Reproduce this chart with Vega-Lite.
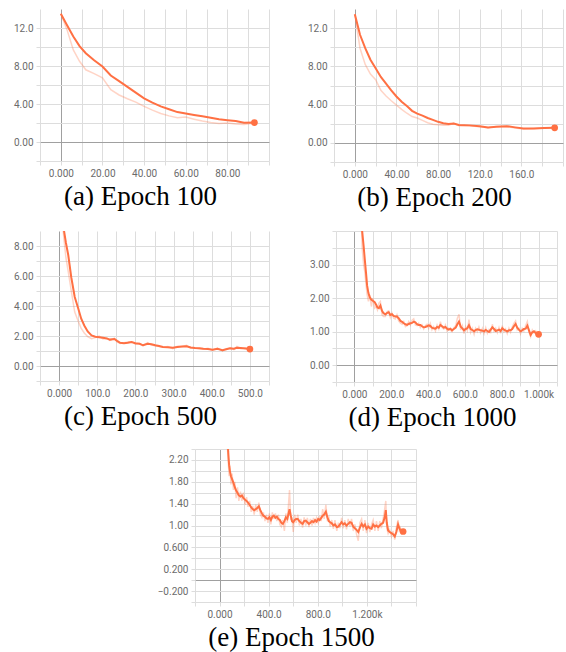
{
  "$schema": "https://vega.github.io/schema/vega-lite/v6.json",
  "padding": {"left": 13, "top": 9, "right": 2, "bottom": 2},
  "background": "white",
  "config": {
    "view": {"stroke": null},
    "axis": {"domain": false, "grid": true, "tickColor": "#dddddd", "tickSize": 4, "labelColor": "#6b6b6b", "labelFont": "Roboto", "labelFontSize": 10, "labelPadding": 3},
    "title": {"font": "Liberation Serif", "fontSize": 27, "fontWeight": "normal", "color": "#000000", "orient": "bottom", "anchor": "middle", "offset": 6, "dx": -14}
  },
  "datasets": {
    "A": [
      {"s":0,"m":13.5,"r":13.5},{"s":3,"m":12.3,"r":11.8},{"s":6,"m":11.1,"r":9.7},{"s":9,"m":10.1,"r":8.5},{"s":12,"m":9.35,"r":7.6},{"s":16,"m":8.6,"r":7.2},{"s":20,"m":7.95,"r":6.75},{"s":24,"m":7.0,"r":5.5},{"s":28,"m":6.4,"r":4.95},{"s":32,"m":5.8,"r":4.55},{"s":36,"m":5.2,"r":4.2},{"s":40,"m":4.6,"r":3.75},{"s":44,"m":4.15,"r":3.35},{"s":48,"m":3.75,"r":3.0},{"s":52,"m":3.45,"r":2.75},{"s":56,"m":3.15,"r":2.55},{"s":60,"m":3.0,"r":2.62},{"s":64,"m":2.85,"r":2.4},{"s":68,"m":2.7,"r":2.2},{"s":72,"m":2.55,"r":2.05},{"s":76,"m":2.4,"r":1.95},{"s":80,"m":2.3,"r":2.0},{"s":84,"m":2.2,"r":1.9},{"s":88,"m":2.02,"r":1.85},{"s":93,"m":2.05,"r":2.0}
    ],
    "B": [
      {"s":0,"m":13.46,"r":13.46},{"s":5,"m":11.3,"r":9.9},{"s":10,"m":9.9,"r":8.2},{"s":15,"m":8.7,"r":7.2},{"s":20,"m":7.8,"r":6.6},{"s":25,"m":6.9,"r":5.5},{"s":30,"m":6.2,"r":4.9},{"s":35,"m":5.5,"r":4.4},{"s":40,"m":4.85,"r":3.95},{"s":45,"m":4.3,"r":3.5},{"s":50,"m":3.85,"r":3.1},{"s":55,"m":3.35,"r":2.75},{"s":60,"m":3.05,"r":2.6},{"s":65,"m":2.85,"r":2.35},{"s":70,"m":2.6,"r":2.1},{"s":75,"m":2.4,"r":1.95},{"s":80,"m":2.2,"r":1.9},{"s":85,"m":2.05,"r":1.85},{"s":90,"m":1.97,"r":1.85},{"s":95,"m":2.03,"r":2.05},{"s":100,"m":1.88,"r":1.8},{"s":110,"m":1.83,"r":1.78},{"s":120,"m":1.75,"r":1.68},{"s":128,"m":1.62,"r":1.58},{"s":136,"m":1.68,"r":1.7},{"s":146,"m":1.75,"r":1.72},{"s":154,"m":1.62,"r":1.55},{"s":162,"m":1.5,"r":1.45},{"s":172,"m":1.5,"r":1.5},{"s":182,"m":1.55,"r":1.55},{"s":192,"m":1.57,"r":1.6}
    ],
    "C": [
      {"s":0,"m":13.5,"r":13.5},{"s":8,"m":10.5,"r":9.8},{"s":13,"m":9.0,"r":8.4},{"s":18,"m":8.2,"r":7.2},{"s":24,"m":7.4,"r":6.3},{"s":32,"m":5.9,"r":5.0},{"s":41,"m":4.6,"r":3.6},{"s":50,"m":3.85,"r":3.0},{"s":58,"m":3.15,"r":2.5},{"s":66,"m":2.7,"r":2.2},{"s":75,"m":2.3,"r":1.95},{"s":85,"m":2.04,"r":1.82},{"s":95,"m":1.95,"r":1.9},{"s":105,"m":1.92,"r":2.0},{"s":115,"m":1.88,"r":1.8},{"s":125,"m":1.84,"r":1.85},{"s":133,"m":1.76,"r":1.7},{"s":145,"m":1.8,"r":1.85},{"s":152,"m":1.68,"r":1.6},{"s":160,"m":1.55,"r":1.5},{"s":170,"m":1.52,"r":1.55},{"s":180,"m":1.55,"r":1.6},{"s":190,"m":1.6,"r":1.62},{"s":200,"m":1.52,"r":1.45},{"s":211,"m":1.48,"r":1.5},{"s":220,"m":1.38,"r":1.35},{"s":232,"m":1.48,"r":1.55},{"s":242,"m":1.45,"r":1.4},{"s":252,"m":1.38,"r":1.35},{"s":262,"m":1.33,"r":1.3},{"s":272,"m":1.27,"r":1.25},{"s":285,"m":1.25,"r":1.3},{"s":298,"m":1.21,"r":1.15},{"s":310,"m":1.27,"r":1.32},{"s":322,"m":1.3,"r":1.28},{"s":334,"m":1.32,"r":1.38},{"s":345,"m":1.23,"r":1.18},{"s":356,"m":1.2,"r":1.22},{"s":368,"m":1.18,"r":1.15},{"s":378,"m":1.15,"r":1.12},{"s":390,"m":1.14,"r":1.18},{"s":402,"m":1.09,"r":1.05},{"s":415,"m":1.15,"r":1.2},{"s":428,"m":1.05,"r":1.0},{"s":438,"m":1.12,"r":1.15},{"s":448,"m":1.18,"r":1.2},{"s":458,"m":1.15,"r":1.1},{"s":466,"m":1.22,"r":1.3},{"s":476,"m":1.2,"r":1.15},{"s":488,"m":1.17,"r":1.22},{"s":500,"m":1.13,"r":1.1}
    ],
    "D": [
      {"s":0,"m":13.5,"r":13.5},{"s":15,"m":9.5,"r":8.8},{"s":30,"m":6.5,"r":5.8},{"s":42,"m":4.0,"r":3.5},{"s":50,"m":3.55,"r":3.0},{"s":56,"m":3.17,"r":2.8},{"s":63,"m":2.75,"r":2.4},{"s":69,"m":2.37,"r":2.1},{"s":76,"m":2.15,"r":1.9},{"s":83,"m":2.03,"r":2.1},{"s":92,"m":1.95,"r":1.75},{"s":100,"m":1.92,"r":2.0},{"s":110,"m":1.88,"r":1.7},{"s":118,"m":1.8,"r":1.75},{"s":125,"m":1.72,"r":1.65},{"s":133,"m":1.7,"r":1.85},{"s":141,"m":1.78,"r":1.9},{"s":150,"m":1.62,"r":1.5},{"s":158,"m":1.55,"r":1.45},{"s":168,"m":1.52,"r":1.45},{"s":178,"m":1.56,"r":1.6},{"s":186,"m":1.58,"r":1.62},{"s":195,"m":1.5,"r":1.42},{"s":204,"m":1.52,"r":1.55},{"s":213,"m":1.47,"r":1.4},{"s":222,"m":1.45,"r":1.38},{"s":231,"m":1.45,"r":1.5},{"s":240,"m":1.4,"r":1.32},{"s":250,"m":1.32,"r":1.25},{"s":259,"m":1.29,"r":1.22},{"s":268,"m":1.25,"r":1.3},{"s":277,"m":1.22,"r":1.15},{"s":286,"m":1.2,"r":1.18},{"s":295,"m":1.23,"r":1.3},{"s":304,"m":1.25,"r":1.2},{"s":313,"m":1.26,"r":1.34},{"s":322,"m":1.3,"r":1.38},{"s":331,"m":1.28,"r":1.2},{"s":340,"m":1.22,"r":1.18},{"s":349,"m":1.2,"r":1.25},{"s":358,"m":1.2,"r":1.12},{"s":367,"m":1.16,"r":1.2},{"s":376,"m":1.13,"r":1.08},{"s":385,"m":1.14,"r":1.18},{"s":394,"m":1.16,"r":1.22},{"s":403,"m":1.19,"r":1.1},{"s":412,"m":1.17,"r":1.24},{"s":421,"m":1.12,"r":1.06},{"s":430,"m":1.1,"r":1.15},{"s":440,"m":1.09,"r":1.02},{"s":449,"m":1.14,"r":1.2},{"s":458,"m":1.12,"r":1.08},{"s":467,"m":1.2,"r":1.3},{"s":476,"m":1.16,"r":1.12},{"s":485,"m":1.12,"r":1.08},{"s":494,"m":1.14,"r":1.2},{"s":503,"m":1.09,"r":1.02},{"s":512,"m":1.06,"r":1.1},{"s":521,"m":1.09,"r":1.04},{"s":530,"m":1.04,"r":1.0},{"s":540,"m":1.08,"r":1.12},{"s":550,"m":1.12,"r":1.18},{"s":559,"m":1.22,"r":1.4},{"s":568,"m":1.3,"r":1.52},{"s":577,"m":1.15,"r":1.05},{"s":586,"m":1.1,"r":1.18},{"s":595,"m":1.04,"r":0.94},{"s":604,"m":1.08,"r":1.15},{"s":613,"m":1.1,"r":1.03},{"s":622,"m":1.19,"r":1.36},{"s":631,"m":1.08,"r":0.98},{"s":640,"m":1.05,"r":1.1},{"s":650,"m":1.01,"r":0.92},{"s":658,"m":1.05,"r":1.1},{"s":667,"m":1.07,"r":1.0},{"s":676,"m":1.06,"r":1.14},{"s":685,"m":1.04,"r":0.97},{"s":695,"m":1.03,"r":1.1},{"s":704,"m":1.01,"r":0.94},{"s":713,"m":1.05,"r":1.12},{"s":722,"m":1.02,"r":0.95},{"s":731,"m":0.99,"r":1.06},{"s":740,"m":1.06,"r":0.98},{"s":749,"m":1.13,"r":1.22},{"s":758,"m":1.08,"r":1.02},{"s":767,"m":1.02,"r":1.1},{"s":776,"m":1.04,"r":0.97},{"s":785,"m":1.06,"r":1.12},{"s":794,"m":1.02,"r":0.95},{"s":803,"m":1.1,"r":1.18},{"s":812,"m":1.06,"r":1.0},{"s":821,"m":1.03,"r":1.08},{"s":830,"m":1.01,"r":0.94},{"s":839,"m":1.04,"r":1.1},{"s":848,"m":1.04,"r":0.98},{"s":857,"m":1.08,"r":1.14},{"s":866,"m":1.16,"r":1.25},{"s":875,"m":1.23,"r":1.32},{"s":884,"m":1.12,"r":1.05},{"s":893,"m":1.06,"r":1.1},{"s":902,"m":1.01,"r":0.94},{"s":911,"m":1.04,"r":1.1},{"s":920,"m":1.08,"r":1.02},{"s":930,"m":1.09,"r":1.18},{"s":939,"m":1.18,"r":1.3},{"s":948,"m":1.04,"r":0.98},{"s":957,"m":0.9,"r":0.85},{"s":966,"m":0.98,"r":1.05},{"s":975,"m":1.01,"r":0.96},{"s":984,"m":0.96,"r":1.02},{"s":993,"m":0.93,"r":0.9},{"s":1000,"m":0.92,"r":0.95}
    ],
    "E": [
      {"s":0,"m":13.5,"r":13.5},{"s":25,"m":8.0,"r":7.0},{"s":50,"m":3.4,"r":3.0},{"s":70,"m":2.36,"r":2.2},{"s":78,"m":2.1,"r":1.9},{"s":84,"m":2.0,"r":2.1},{"s":93,"m":1.9,"r":1.75},{"s":102,"m":1.85,"r":1.95},{"s":113,"m":1.78,"r":1.65},{"s":124,"m":1.7,"r":1.8},{"s":135,"m":1.64,"r":1.5},{"s":146,"m":1.6,"r":1.7},{"s":157,"m":1.55,"r":1.45},{"s":170,"m":1.53,"r":1.62},{"s":182,"m":1.55,"r":1.45},{"s":195,"m":1.5,"r":1.6},{"s":208,"m":1.47,"r":1.38},{"s":220,"m":1.45,"r":1.52},{"s":232,"m":1.42,"r":1.34},{"s":245,"m":1.38,"r":1.45},{"s":258,"m":1.33,"r":1.25},{"s":270,"m":1.3,"r":1.36},{"s":282,"m":1.28,"r":1.2},{"s":295,"m":1.3,"r":1.38},{"s":307,"m":1.32,"r":1.25},{"s":320,"m":1.35,"r":1.42},{"s":332,"m":1.28,"r":1.2},{"s":345,"m":1.22,"r":1.15},{"s":357,"m":1.18,"r":1.24},{"s":370,"m":1.16,"r":1.08},{"s":382,"m":1.13,"r":1.2},{"s":394,"m":1.12,"r":1.05},{"s":406,"m":1.15,"r":1.22},{"s":418,"m":1.1,"r":1.02},{"s":430,"m":1.16,"r":1.24},{"s":442,"m":1.18,"r":1.12},{"s":455,"m":1.14,"r":1.22},{"s":467,"m":1.16,"r":1.08},{"s":479,"m":1.12,"r":1.2},{"s":491,"m":1.1,"r":1.02},{"s":503,"m":1.05,"r":0.98},{"s":516,"m":1.03,"r":1.1},{"s":528,"m":1.08,"r":0.9},{"s":540,"m":1.15,"r":1.22},{"s":552,"m":1.12,"r":1.05},{"s":562,"m":1.22,"r":1.4},{"s":570,"m":1.3,"r":1.65},{"s":580,"m":1.18,"r":1.1},{"s":590,"m":1.08,"r":1.15},{"s":600,"m":1.06,"r":0.88},{"s":612,"m":1.1,"r":1.2},{"s":624,"m":1.12,"r":1.05},{"s":637,"m":1.12,"r":1.2},{"s":650,"m":1.08,"r":1.0},{"s":663,"m":1.05,"r":1.12},{"s":676,"m":1.03,"r":0.96},{"s":689,"m":1.08,"r":1.15},{"s":702,"m":1.09,"r":1.0},{"s":715,"m":1.06,"r":1.14},{"s":728,"m":1.03,"r":0.97},{"s":740,"m":1.05,"r":1.12},{"s":753,"m":1.08,"r":1.0},{"s":765,"m":1.06,"r":1.14},{"s":778,"m":1.1,"r":1.04},{"s":790,"m":1.07,"r":1.14},{"s":803,"m":1.12,"r":1.05},{"s":815,"m":1.1,"r":1.18},{"s":828,"m":1.14,"r":1.08},{"s":840,"m":1.18,"r":1.3},{"s":852,"m":1.2,"r":1.12},{"s":866,"m":1.25,"r":1.38},{"s":878,"m":1.15,"r":1.08},{"s":890,"m":1.08,"r":1.15},{"s":901,"m":1.06,"r":0.98},{"s":914,"m":1.04,"r":1.1},{"s":927,"m":1.0,"r":0.94},{"s":940,"m":1.02,"r":1.1},{"s":955,"m":0.97,"r":0.9},{"s":968,"m":0.98,"r":1.05},{"s":981,"m":1.02,"r":0.95},{"s":994,"m":1.06,"r":1.14},{"s":1007,"m":1.02,"r":0.95},{"s":1020,"m":1.04,"r":1.1},{"s":1034,"m":1.0,"r":0.93},{"s":1048,"m":1.03,"r":1.12},{"s":1062,"m":1.06,"r":0.98},{"s":1075,"m":1.05,"r":1.12},{"s":1089,"m":0.98,"r":0.9},{"s":1102,"m":0.95,"r":1.02},{"s":1116,"m":0.92,"r":0.84},{"s":1130,"m":0.88,"r":0.72},{"s":1143,"m":0.96,"r":1.05},{"s":1157,"m":1.03,"r":1.12},{"s":1170,"m":0.98,"r":0.9},{"s":1184,"m":1.02,"r":1.1},{"s":1197,"m":0.94,"r":0.86},{"s":1211,"m":0.98,"r":1.05},{"s":1224,"m":0.95,"r":0.88},{"s":1238,"m":0.94,"r":1.02},{"s":1251,"m":1.02,"r":1.1},{"s":1265,"m":0.98,"r":0.9},{"s":1278,"m":1.0,"r":1.08},{"s":1292,"m":0.97,"r":0.9},{"s":1305,"m":1.0,"r":1.08},{"s":1318,"m":1.03,"r":0.95},{"s":1332,"m":1.05,"r":1.12},{"s":1345,"m":1.15,"r":1.3},{"s":1354,"m":1.28,"r":1.45},{"s":1362,"m":1.05,"r":0.95},{"s":1373,"m":0.91,"r":0.85},{"s":1386,"m":0.88,"r":0.92},{"s":1400,"m":0.86,"r":0.8},{"s":1413,"m":0.84,"r":0.9},{"s":1427,"m":0.8,"r":0.74},{"s":1440,"m":0.88,"r":0.96},{"s":1454,"m":1.02,"r":1.1},{"s":1465,"m":0.95,"r":0.88},{"s":1473,"m":0.91,"r":0.95},{"s":1485,"m":0.9,"r":0.86},{"s":1495,"m":0.89,"r":0.9}
    ]
  },
  "spacing": 19,
  "vconcat": [
    {
      "spacing": 37,
      "hconcat": [
        {
          "width": 229, "height": 152,
          "title": "(a) Epoch 100",
          "data": {"name": "A"},
          "encoding": {
            "x": {"field": "s", "type": "quantitative", "title": null, "scale": {"domain": [-10, 100], "nice": false, "zero": false},
                  "axis": {"values": [-10,0,10,20,30,40,50,60,70,80,90,100], "format": ".4s", "labelExpr": "(datum.value % 20 == 0 && datum.value >= 0 && datum.value < 100) ? datum.label : ''", "gridColor": {"condition": {"test": "datum.value === 0", "value": "#a0a0a0"}, "value": "#dddddd"}}},
            "y": {"field": "m", "type": "quantitative", "title": null, "scale": {"domain": [-2, 14], "nice": false, "zero": false},
                  "axis": {"values": [-2,0,2,4,6,8,10,12], "format": ".3r", "labelExpr": "datum.value == 0 ? '0.00' : ((datum.value % 4 == 0 && datum.value > 0) ? datum.label : '')", "gridColor": {"condition": {"test": "datum.value === 0", "value": "#a0a0a0"}, "value": "#dddddd"}}}
          },
          "layer": [
            {"mark": {"type": "line", "color": "#ff7043", "opacity": 0.3, "strokeWidth": 1.5, "clip": true}, "encoding": {"y": {"field": "r", "type": "quantitative"}}},
            {"mark": {"type": "line", "color": "#ff7043", "strokeWidth": 2, "clip": true}},
            {"transform": [{"joinaggregate": [{"op": "max", "field": "s", "as": "smax"}]}, {"filter": "datum.s == datum.smax"}],
             "mark": {"type": "circle", "color": "#ff7043", "size": 45, "opacity": 1}}
          ]
        },
        {
          "width": 229, "height": 153,
          "title": "(b) Epoch 200",
          "data": {"name": "B"},
          "encoding": {
            "x": {"field": "s", "type": "quantitative", "title": null, "scale": {"domain": [-20, 200], "nice": false, "zero": false},
                  "axis": {"values": [-20,0,20,40,60,80,100,120,140,160,180,200], "format": ".4s", "labelExpr": "(datum.value % 40 == 0 && datum.value >= 0 && datum.value < 200) ? datum.label : ''", "gridColor": {"condition": {"test": "datum.value === 0", "value": "#a0a0a0"}, "value": "#dddddd"}}},
            "y": {"field": "m", "type": "quantitative", "title": null, "scale": {"domain": [-2, 14], "nice": false, "zero": false},
                  "axis": {"values": [-2,0,2,4,6,8,10,12], "format": ".3r", "labelExpr": "datum.value == 0 ? '0.00' : ((datum.value % 4 == 0 && datum.value > 0) ? datum.label : '')", "gridColor": {"condition": {"test": "datum.value === 0", "value": "#a0a0a0"}, "value": "#dddddd"}}}
          },
          "layer": [
            {"mark": {"type": "line", "color": "#ff7043", "opacity": 0.3, "strokeWidth": 1.5, "clip": true}, "encoding": {"y": {"field": "r", "type": "quantitative"}}},
            {"mark": {"type": "line", "color": "#ff7043", "strokeWidth": 2, "clip": true}},
            {"transform": [{"joinaggregate": [{"op": "max", "field": "s", "as": "smax"}]}, {"filter": "datum.s == datum.smax"}],
             "mark": {"type": "circle", "color": "#ff7043", "size": 45, "opacity": 1}}
          ]
        }
      ]
    },
    {
      "spacing": 17,
      "vconcat": [
        {
          "spacing": 39,
          "hconcat": [
            {
              "width": 229, "height": 150,
              "title": "(c) Epoch 500",
              "data": {"name": "C"},
              "encoding": {
                "x": {"field": "s", "type": "quantitative", "title": null, "scale": {"domain": [-50, 550], "nice": false, "zero": false},
                      "axis": {"values": [-50,0,50,100,150,200,250,300,350,400,450,500,550], "format": ".4s", "labelExpr": "(datum.value % 100 == 0 && datum.value >= 0 && datum.value <= 500) ? datum.label : ''", "gridColor": {"condition": {"test": "datum.value === 0", "value": "#a0a0a0"}, "value": "#dddddd"}}},
                "y": {"field": "m", "type": "quantitative", "title": null, "scale": {"domain": [-1, 9], "nice": false, "zero": false},
                      "axis": {"values": [-1,0,1,2,3,4,5,6,7,8], "format": ".3r", "labelExpr": "datum.value == 0 ? '0.00' : ((datum.value % 2 == 0 && datum.value > 0) ? datum.label : '')", "gridColor": {"condition": {"test": "datum.value === 0", "value": "#a0a0a0"}, "value": "#dddddd"}}}
              },
              "layer": [
                {"mark": {"type": "line", "color": "#ff7043", "opacity": 0.3, "strokeWidth": 1.5, "clip": true}, "encoding": {"y": {"field": "r", "type": "quantitative"}}},
                {"mark": {"type": "line", "color": "#ff7043", "strokeWidth": 2, "clip": true}},
                {"transform": [{"joinaggregate": [{"op": "max", "field": "s", "as": "smax"}]}, {"filter": "datum.s == datum.smax"}],
                 "mark": {"type": "circle", "color": "#ff7043", "size": 45, "opacity": 1}}
              ]
            },
            {
              "width": 221, "height": 151,
              "title": "(d) Epoch 1000",
              "data": {"name": "D"},
              "encoding": {
                "x": {"field": "s", "type": "quantitative", "title": null, "scale": {"domain": [-100, 1100], "nice": false, "zero": false},
                      "axis": {"values": [-100,0,100,200,300,400,500,600,700,800,900,1000,1100], "format": ".4s", "labelExpr": "(datum.value % 200 == 0 && datum.value >= 0 && datum.value <= 1000) ? datum.label : ''", "gridColor": {"condition": {"test": "datum.value === 0", "value": "#a0a0a0"}, "value": "#dddddd"}}},
                "y": {"field": "m", "type": "quantitative", "title": null, "scale": {"domain": [-0.5, 4], "nice": false, "zero": false},
                      "axis": {"values": [-0.5,0,0.5,1,1.5,2,2.5,3,3.5,4], "format": ".3r", "labelExpr": "datum.value == 0 ? '0.00' : ((datum.value % 1 == 0 && datum.value > 0 && datum.value < 4) ? datum.label : '')", "gridColor": {"condition": {"test": "datum.value === 0", "value": "#a0a0a0"}, "value": "#dddddd"}}}
              },
              "layer": [
                {"mark": {"type": "line", "color": "#ff7043", "opacity": 0.3, "strokeWidth": 1.5, "clip": true}, "encoding": {"y": {"field": "r", "type": "quantitative"}}},
                {"mark": {"type": "line", "color": "#ff7043", "strokeWidth": 2, "clip": true}},
                {"transform": [{"joinaggregate": [{"op": "max", "field": "s", "as": "smax"}]}, {"filter": "datum.s == datum.smax"}],
                 "mark": {"type": "circle", "color": "#ff7043", "size": 45, "opacity": 1}}
              ]
            }
          ]
        },
        {
          "spacing": 107,
          "hconcat": [
            {"width": 10, "height": 10, "data": {"values": []}, "mark": "point"},
            {
              "width": 221, "height": 153,
              "title": "(e) Epoch 1500",
              "data": {"name": "E"},
              "encoding": {
                "x": {"field": "s", "type": "quantitative", "title": null, "scale": {"domain": [-200, 1600], "nice": false, "zero": false},
                      "axis": {"values": [-200,0,200,400,600,800,1000,1200,1400,1600], "format": ".4s", "labelExpr": "(datum.value % 400 == 0 && datum.value >= 0 && datum.value < 1600) ? datum.label : ''", "gridColor": {"condition": {"test": "datum.value === 0", "value": "#a0a0a0"}, "value": "#dddddd"}}},
                "y": {"field": "m", "type": "quantitative", "title": null, "scale": {"domain": [-0.4, 2.4], "nice": false, "zero": false},
                      "axis": {"values": [-0.4,-0.2,0,0.2,0.4,0.6,0.8,1.0,1.2,1.4,1.6,1.8,2.0,2.2,2.4], "format": ".3r", "labelExpr": "(abs(round(datum.value * 10)) % 4 == 2) ? datum.label : ''", "gridColor": {"condition": {"test": "datum.value === 0", "value": "#a0a0a0"}, "value": "#dddddd"}}}
              },
              "layer": [
                {"mark": {"type": "line", "color": "#ff7043", "opacity": 0.3, "strokeWidth": 1.5, "clip": true}, "encoding": {"y": {"field": "r", "type": "quantitative"}}},
                {"mark": {"type": "line", "color": "#ff7043", "strokeWidth": 2, "clip": true}},
                {"transform": [{"joinaggregate": [{"op": "max", "field": "s", "as": "smax"}]}, {"filter": "datum.s == datum.smax"}],
                 "mark": {"type": "circle", "color": "#ff7043", "size": 45, "opacity": 1}}
              ]
            }
          ]
        }
      ]
    }
  ]
}
